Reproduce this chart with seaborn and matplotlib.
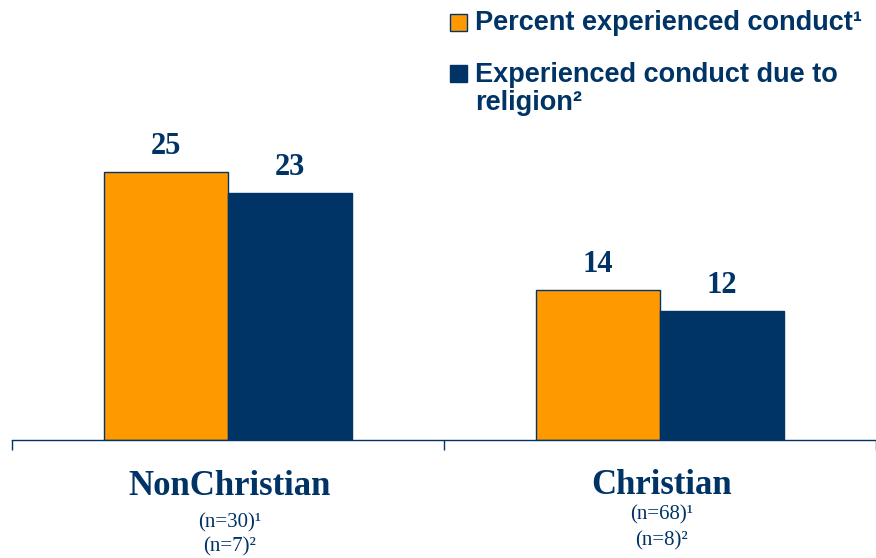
import matplotlib
matplotlib.use("Agg")
import matplotlib.pyplot as plt
from matplotlib.patches import Rectangle
from matplotlib.ticker import FixedLocator
import seaborn as sns
import pandas as pd

categories = ["NonChristian", "Christian"]
series_names = ["Percent experienced conduct\u00b9", "Experienced conduct due to religion\u00b2"]
conduct_values = [25, 14]
religion_values = [23, 12]
n_labels_1 = ["(n=30)\u00b9", "(n=68)\u00b9"]
n_labels_2 = ["(n=7)\u00b2", "(n=8)\u00b2"]

ORANGE = "#FF9900"
NAVY = "#003366"

df = pd.DataFrame({
    "category": categories * 2,
    "series": [series_names[0]] * 2 + [series_names[1]] * 2,
    "value": conduct_values + religion_values,
})

sns.set_theme(style="white")
plt.rcParams["font.family"] = ["Liberation Serif", "DejaVu Serif"]

W, H = 876, 558
fig = plt.figure(figsize=(W / 100, H / 100), dpi=100)
ax = fig.add_axes([12 / W, 118 / H, 864 / W, (440 - 118.4) / H])

sns.barplot(data=df, x="category", y="value", hue="series", order=categories,
            hue_order=series_names, palette=[ORANGE, NAVY], width=0.574,
            edgecolor=NAVY, linewidth=1.0, legend=False, ax=ax, saturation=1)

ax.set_xlim(-0.5, 1.5)
ax.set_ylim(0, 30)
ax.set_xlabel("")
ax.set_ylabel("")
ax.set_yticks([])
ax.set_xticks([0, 1])
ax.set_xticklabels([])
ax.tick_params(axis="x", which="major", length=0)
ax.xaxis.set_minor_locator(FixedLocator([-0.5, 0.5, 1.5]))
ax.tick_params(axis="x", which="minor", direction="out", length=7.5, width=1.0,
               color=NAVY, bottom=True)
for s in ["left", "right", "top"]:
    ax.spines[s].set_visible(False)
ax.spines["bottom"].set_color(NAVY)
ax.spines["bottom"].set_linewidth(1.0)
ax.patch.set_alpha(0)

for cont in ax.containers:
    ax.bar_label(cont, fmt="%d", padding=8, fontsize=22, fontweight="bold",
                 color=NAVY, family=["Liberation Serif"])

# category labels and n labels (figure pixel coords of baselines, y from top)
cat_x = [230, 662]
cat_base = [495, 494]
n1_base = [527, 519]
n2_base = [551, 545]
for i, cat in enumerate(categories):
    fig.text(cat_x[i] / W, 1 - cat_base[i] / H, cat, ha="center", va="baseline",
             fontsize=25, fontweight="bold", color=NAVY, family=["Liberation Serif"])
    fig.text(cat_x[i] / W, 1 - n1_base[i] / H, n_labels_1[i], ha="center", va="baseline",
             fontsize=15, color=NAVY, family=["Liberation Serif", "DejaVu Serif"])
    fig.text(cat_x[i] / W, 1 - n2_base[i] / H, n_labels_2[i], ha="center", va="baseline",
             fontsize=15, color=NAVY, family=["Liberation Serif", "DejaVu Serif"])

# legend
leg_font = dict(fontsize=19.5, fontweight="bold", color=NAVY,
                family=["Liberation Sans", "DejaVu Sans"])
fig.patches.append(Rectangle((450 / W, 1 - 31 / H), 17 / W, 17 / H,
                             transform=fig.transFigure, facecolor=ORANGE,
                             edgecolor=NAVY, linewidth=1.0))
fig.patches.append(Rectangle((450 / W, 1 - 82 / H), 17 / W, 17 / H,
                             transform=fig.transFigure, facecolor=NAVY,
                             edgecolor=NAVY, linewidth=1.0))
fig.text(475 / W, 1 - 30 / H, series_names[0], ha="left", va="baseline", **leg_font)
fig.text(475 / W, 1 - 82 / H, "Experienced conduct due to", ha="left", va="baseline", **leg_font)
fig.text(475 / W, 1 - 110 / H, "religion\u00b2", ha="left", va="baseline", **leg_font)

fig.savefig("out.png", dpi=100)
